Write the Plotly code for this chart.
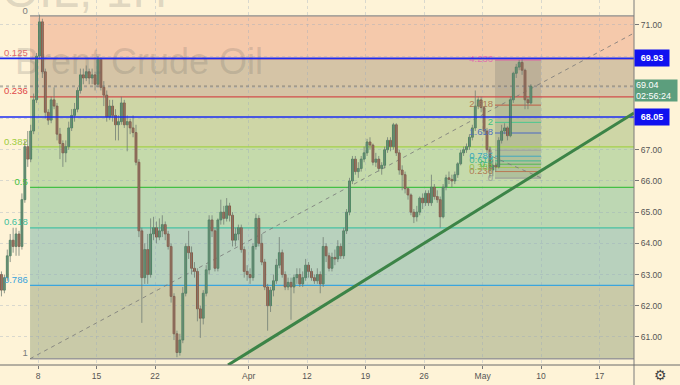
import plotly.graph_objects as go

# ---------------- data ----------------
opens = [63.0, 62.5, 62.9, 63.6, 64.1, 63.9, 64.3, 63.9, 65.4, 67.1,
         66.7, 67.6, 68.6, 70.0, 71.1, 69.5, 68.2, 67.95, 68.6, 68.4,
         67.5, 67.2, 66.9, 67.1, 67.7, 68.1, 68.3, 68.9, 69.4, 69.3,
         69.5, 69.3, 69.4, 69.1, 69.9, 69.0, 68.75, 68.05, 68.4, 68.1,
         67.8, 67.9, 68.5, 67.8, 67.9, 67.7, 67.55, 66.6, 64.4, 62.9,
         63.8, 63.0, 64.3, 64.5, 64.2, 64.4, 64.6, 64.3, 63.9, 62.3,
         61.1, 60.5, 60.9, 62.4, 63.9, 63.7, 63.2, 63.1, 61.9, 61.6,
         62.4, 63.15, 64.75, 64.4, 63.2, 64.75, 65.0, 64.8, 65.2, 64.9,
         64.1, 64.3, 64.5, 63.8, 63.1, 63.0, 62.9, 63.9, 64.8, 64.0,
         63.4, 62.6, 62.0, 62.5, 62.8, 63.3, 63.7, 63.0, 62.6, 62.75,
         62.6, 62.9, 63.0, 62.7, 62.9, 63.3, 63.1, 62.9, 62.8, 63.0,
         62.7, 63.9, 63.6, 63.2, 63.55, 63.5, 63.9, 63.6, 64.4, 65.0,
         66.0, 66.7, 66.3, 66.4, 66.7, 66.9, 67.25, 67.15, 66.6, 66.7,
         66.4, 66.5, 67.0, 67.3, 67.1, 67.8, 66.9, 66.35, 66.2, 65.75,
         65.55, 65.0, 64.85, 65.0, 65.45, 65.3, 65.6, 65.3, 65.8, 65.5,
         65.4, 64.85, 65.8, 66.1, 66.05, 66.0, 66.2, 66.55, 66.9, 67.0,
         67.1, 67.4, 67.7, 68.4, 68.6, 68.35, 67.6, 67.0, 66.35, 66.5,
         66.45, 67.3, 67.6, 67.7, 67.45, 68.6, 69.45, 69.65, 69.8, 69.55,
         68.6, 68.5]
highs = [63.1, 63.0, 63.8, 64.3, 64.5, 64.5, 64.4, 65.6, 67.3, 67.6,
         67.8, 68.8, 70.1, 71.33, 71.2, 69.6, 68.3, 68.7, 69.0, 68.5,
         67.7, 67.3, 67.3, 67.9, 68.3, 68.5, 69.0, 69.6, 69.6, 69.7,
         69.6, 69.6, 69.5, 70.0, 69.95, 69.2, 68.9, 68.6, 68.6, 68.3,
         68.1, 68.7, 68.6, 68.1, 68.0, 68.1, 67.8, 66.7, 64.5, 64.0,
         64.3, 64.8, 64.85, 64.7, 64.8, 64.9, 64.7, 64.4, 64.0, 62.4,
         61.2, 61.1, 62.6, 64.0, 64.4, 63.9, 63.4, 63.2, 62.0, 62.5,
         63.3, 64.9, 64.9, 64.5, 64.8, 65.4, 65.2, 65.45, 65.3, 65.0,
         64.5, 64.6, 64.6, 63.9, 63.3, 63.2, 64.0, 64.95, 64.9, 64.3,
         63.5, 62.7, 62.6, 63.0, 63.5, 64.2, 63.8, 63.1, 62.9, 62.9,
         63.0, 63.2, 63.2, 63.1, 63.5, 63.4, 63.2, 63.0, 63.2, 63.1,
         64.2, 64.0, 63.7, 63.7, 63.8, 64.1, 64.0, 64.5, 65.1, 66.1,
         66.8, 66.8, 66.6, 66.8, 67.1, 67.35, 67.4, 67.2, 66.9, 66.8,
         66.6, 67.1, 67.4, 67.4, 67.86, 67.85, 67.0, 66.5, 66.3, 65.8,
         65.6, 65.1, 65.2, 65.5, 65.6, 65.7, 65.7, 66.2, 65.9, 65.7,
         65.5, 65.9, 66.2, 66.3, 66.2, 66.3, 66.6, 67.0, 67.1, 67.2,
         67.5, 67.8, 68.9, 68.7, 68.7, 68.4, 67.7, 67.1, 66.7, 66.6,
         67.4, 67.8, 67.85, 67.75, 68.7, 69.5, 69.75, 69.88, 69.9, 69.6,
         68.7, 69.1]
lows = [62.3, 62.4, 62.8, 63.4, 63.7, 63.6, 63.6, 63.8, 65.3, 66.45,
        66.6, 67.5, 68.5, 69.9, 69.3, 68.0, 67.8, 67.85, 68.3, 67.3,
        66.7, 66.45, 66.6, 67.0, 67.6, 67.9, 68.2, 68.8, 69.1, 69.2,
        69.1, 69.1, 68.9, 69.0, 68.9, 68.4, 67.9, 67.95, 67.9, 67.3,
        67.3, 67.8, 67.7, 66.95, 67.5, 67.4, 66.5, 64.2, 61.45, 62.7,
        62.7, 62.9, 64.1, 64.0, 64.1, 64.2, 64.1, 63.8, 62.1, 60.9,
        60.35, 60.4, 60.8, 62.3, 63.5, 63.0, 62.9, 61.5, 60.97, 61.4,
        62.3, 63.0, 64.2, 63.1, 63.1, 64.6, 64.6, 64.7, 64.7, 63.9,
        63.9, 64.1, 63.7, 62.9, 62.8, 62.7, 62.8, 63.8, 63.9, 63.3,
        62.5, 61.2, 61.8, 62.3, 62.7, 63.2, 62.9, 62.5, 62.5, 61.55,
        62.4, 62.7, 62.6, 62.6, 62.8, 62.9, 62.8, 62.7, 62.7, 62.4,
        62.6, 63.4, 63.1, 63.1, 63.3, 63.4, 63.5, 63.5, 64.3, 64.9,
        65.9, 66.2, 66.1, 66.3, 66.6, 66.8, 67.0, 66.5, 66.45, 66.3,
        66.2, 66.4, 66.9, 66.95, 67.0, 66.8, 66.2, 65.7, 65.6, 65.4,
        64.9, 64.65, 64.7, 64.9, 65.1, 65.2, 65.2, 65.2, 65.4, 65.3,
        64.5, 64.8, 65.7, 65.9, 65.8, 65.9, 66.1, 66.5, 66.8, 66.9,
        67.0, 67.3, 67.6, 68.3, 68.2, 67.5, 66.9, 66.1, 66.15, 66.3,
        66.4, 67.2, 67.5, 67.3, 67.4, 68.5, 69.3, 69.55, 69.4, 68.3,
        68.3, 68.45]
closes = [62.5, 62.9, 63.6, 64.1, 63.9, 64.3, 63.9, 65.4, 67.1, 66.7,
          67.6, 68.6, 70.0, 71.1, 69.5, 68.2, 67.95, 68.6, 68.4, 67.5,
          67.2, 66.9, 67.1, 67.7, 68.1, 68.3, 68.9, 69.4, 69.3, 69.5,
          69.3, 69.4, 69.1, 69.9, 69.0, 68.75, 68.05, 68.4, 68.1, 67.8,
          67.9, 68.5, 67.8, 67.9, 67.7, 67.55, 66.6, 64.4, 62.9, 63.8,
          63.0, 64.3, 64.5, 64.2, 64.4, 64.6, 64.3, 63.9, 62.3, 61.1,
          60.5, 60.9, 62.4, 63.9, 63.7, 63.2, 63.1, 61.9, 61.6, 62.4,
          63.15, 64.75, 64.4, 63.2, 64.75, 65.0, 64.8, 65.2, 64.9, 64.1,
          64.3, 64.5, 63.8, 63.1, 63.0, 62.9, 63.9, 64.8, 64.0, 63.4,
          62.6, 62.0, 62.5, 62.8, 63.3, 63.7, 63.0, 62.6, 62.75, 62.6,
          62.9, 63.0, 62.7, 62.9, 63.3, 63.1, 62.9, 62.8, 63.0, 62.7,
          63.9, 63.6, 63.2, 63.55, 63.5, 63.9, 63.6, 64.4, 65.0, 66.0,
          66.7, 66.3, 66.4, 66.7, 66.9, 67.25, 67.15, 66.6, 66.7, 66.4,
          66.5, 67.0, 67.3, 67.1, 67.8, 66.9, 66.35, 66.2, 65.75, 65.55,
          65.0, 64.85, 65.0, 65.45, 65.3, 65.6, 65.3, 65.8, 65.5, 65.4,
          64.85, 65.8, 66.1, 66.05, 66.0, 66.2, 66.55, 66.9, 67.0, 67.1,
          67.4, 67.7, 68.4, 68.6, 68.35, 67.6, 67.0, 66.35, 66.5, 66.45,
          67.3, 67.6, 67.7, 67.45, 68.6, 69.45, 69.65, 69.8, 69.55, 68.6,
          68.5, 69.04]

# x position of candles in trading-day units (Mar 8 = 0), 4 bars per day
bar_start = -3.125
bar_step = 0.25

tick_pos = [0, 5, 10, 18, 23, 28, 33, 38, 43, 48]
tick_text = ["8", "15", "22", "Apr", "12", "19", "26", "May", "10", "17"]
price_ticks = [61, 62, 63, 64, 65, 66, 67, 68, 69, 70, 71]
hidden_ticks = [68, 69, 70]

# Fibonacci retracement
fib_high = 71.29
fib_low = 60.30
fib_ratios = [0, 0.125, 0.236, 0.382, 0.5, 0.618, 0.786, 1]
fib_labels = ["0", "0.125", "0.236", "0.382", "0.5", "0.618", "0.786", "1"]
fib_start = -0.68

# Trend-based Fibonacci extension
ext_base = 66.09
ext_unit = 0.894
ext_ratios = [0, 0.236, 0.382, 0.5, 0.618, 0.786, 1, 1.618, 2, 2.618, 4.236]
ext_labels = ["0", "0.236", "0.382", "0.5", "0.618", "0.786", "1", "1.618", "2", "2.618", "4.236"]
ext_x0, ext_x1 = 39.06, 42.99
ext_link = ((38.89, 66.77), (42.99, 66.10))

blue_levels = [69.93, 68.05]
last_price = 69.04
countdown = "02:56:24"

trend_line = ((16.24, 60.10), (50.94, 68.18))
fib_diag = ((-0.68, 60.30), (50.94, 70.74))

X_RANGE = [-3.248, 50.94]
Y_RANGE = [60.10, 71.80]

# ---------------- styles ----------------
BG = "#FEF3D7"
FONT = "Liberation Sans, Arial, sans-serif"
zone_colors = ["#F5C9AB", "#D5C4A6", "#CED6A6", "#C5DAAB", "#BDD7B3", "#B8D1BD", "#C9CAA8"]
fib_line_colors = ["#8c8c8c", "#e07070", "#d04848", "#a5d04a", "#45c045", "#45c0a0", "#3aa5dd", "#9a9a9a"]
fib_text_colors = ["#7c7c7c", "#e06a6a", "#e04848", "#9ccc3c", "#3cc03c", "#3cc09c", "#35a2dc", "#7c7c7c"]
ext_colors = ["#9a9a9a", "#b87a55", "#a0c850", "#50b850", "#40b890", "#40a8c0",
              "#a0a0a0", "#4a68c4", "#48c890", "#c05a44", "#e060a8"]
ext_text_colors = ["#9a9a9a", "#b07a55", "#90c050", "#50b850", "#40b890", "#3aa8c0",
                   "#a0a0a0", "#5070c0", "#40c080", "#b07a55", "#e070b0"]
UP_FILL, UP_EDGE = "#5d9f78", "#3f7a58"
DN_FILL, DN_EDGE = "#b5654e", "#7d4a3a"

n = len(closes)
xs = [bar_start + bar_step * i for i in range(n)]

fig = go.Figure()

# watermarks (under candles)
fig.add_trace(go.Scatter(x=[-1.97], y=[69.72], mode="text", text=["Brent Crude Oil"],
                         textposition="middle right", hoverinfo="skip", showlegend=False,
                         textfont=dict(size=36, color="rgba(95,95,95,0.2)", family=FONT)))
fig.add_trace(go.Scatter(x=[-3.1], y=[71.96], mode="text", text=["OIL, 1H"],
                         textposition="middle right", hoverinfo="skip", showlegend=False,
                         textfont=dict(size=48, color="rgba(95,95,95,0.2)", family=FONT)))

# fib labels
fib_prices = [fib_high - r * (fib_high - fib_low) for r in fib_ratios]
fig.add_trace(go.Scatter(x=[fib_start - 0.2] * len(fib_prices), y=fib_prices, mode="text",
                         text=fib_labels, textposition="top left", hoverinfo="skip", showlegend=False,
                         textfont=dict(size=9.5, color=fib_text_colors, family=FONT)))
ext_prices = [ext_base + r * ext_unit for r in ext_ratios]
fig.add_trace(go.Scatter(x=[ext_x0 - 0.17] * len(ext_prices), y=ext_prices, mode="text",
                         text=ext_labels, textposition="middle left", hoverinfo="skip", showlegend=False,
                         textfont=dict(size=9.5, color=ext_text_colors, family=FONT)))

# wicks
wx, wy = [], []
for x, h, l in zip(xs, highs, lows):
    wx += [x, x, None]
    wy += [l, h, None]
fig.add_trace(go.Scatter(x=wx, y=wy, mode="lines", line=dict(color="rgba(115,128,118,0.8)", width=1),
                         hoverinfo="skip", showlegend=False))

# bodies
for up in (True, False):
    idx = [i for i in range(n) if (closes[i] >= opens[i]) == up]
    fig.add_trace(go.Bar(
        x=[xs[i] for i in idx],
        base=[min(opens[i], closes[i]) for i in idx],
        y=[max(abs(closes[i] - opens[i]), 0.03) for i in idx],
        width=0.16,
        marker=dict(color=UP_FILL if up else DN_FILL,
                    line=dict(color=UP_EDGE if up else DN_EDGE, width=0.8)),
        hoverinfo="skip", showlegend=False))

shapes = []
# fib zones
for i in range(len(fib_prices) - 1):
    shapes.append(dict(type="rect", xref="x", yref="y", x0=fib_start, x1=52,
                       y0=fib_prices[i + 1], y1=fib_prices[i], fillcolor=zone_colors[i],
                       line=dict(width=0), layer="below"))
# extension box
shapes.append(dict(type="rect", xref="x", yref="y", x0=ext_x0, x1=ext_x1,
                   y0=ext_prices[0], y1=ext_prices[-1], fillcolor="rgba(105,105,105,0.22)",
                   line=dict(width=0), layer="below"))
# fib lines
for p, c in zip(fib_prices, fib_line_colors):
    shapes.append(dict(type="line", xref="x", yref="y", x0=fib_start, x1=52, y0=p, y1=p,
                       line=dict(color=c, width=1.3), layer="between"))
for p, c in zip(ext_prices, ext_colors):
    shapes.append(dict(type="line", xref="x", yref="y", x0=ext_x0, x1=ext_x1, y0=p, y1=p,
                       line=dict(color=c, width=1), layer="between"))
shapes.append(dict(type="line", xref="x", yref="y", x0=fib_diag[0][0], y0=fib_diag[0][1],
                   x1=fib_diag[1][0], y1=fib_diag[1][1],
                   line=dict(color="rgba(120,120,120,0.8)", width=1, dash="4px,4px"), layer="between"))
shapes.append(dict(type="line", xref="x", yref="y", x0=ext_link[0][0], y0=ext_link[0][1],
                   x1=ext_link[1][0], y1=ext_link[1][1],
                   line=dict(color="rgba(120,120,120,0.8)", width=1, dash="4px,4px"), layer="between"))
# user drawings above
for p in blue_levels:
    shapes.append(dict(type="line", xref="x", yref="y", x0=X_RANGE[0], x1=52, y0=p, y1=p,
                       line=dict(color="#1d2cf3", width=1.6), layer="above"))
shapes.append(dict(type="line", xref="x", yref="y", x0=X_RANGE[0], x1=52, y0=last_price, y1=last_price,
                   line=dict(color="rgba(110,110,110,0.8)", width=1, dash="dot"), layer="above"))
shapes.append(dict(type="line", xref="x", yref="y", x0=trend_line[0][0], y0=trend_line[0][1],
                   x1=trend_line[1][0], y1=trend_line[1][1],
                   line=dict(color="#3c8447", width=3), layer="above"))
# axis frame lines
shapes.append(dict(type="line", xref="paper", yref="paper", x0=1, x1=1, y0=-0.06, y1=1,
                   line=dict(color="#7a7a7a", width=1), layer="above"))
shapes.append(dict(type="line", xref="paper", yref="paper", x0=0, x1=1.08, y0=0, y1=0,
                   line=dict(color="#6a6a6a", width=1), layer="above"))

annotations = []
for p in blue_levels:
    annotations.append(dict(xref="paper", yref="y", x=1, y=p, xanchor="left", yanchor="middle",
                            text="<b>%.2f</b>" % p, showarrow=False, bgcolor="#1010f0",
                            font=dict(size=9, color="white", family=FONT),
                            width=30, height=12, borderpad=2, align="center"))
annotations.append(dict(xref="paper", yref="y", x=1, y=last_price, xanchor="left", yanchor="top",
                        yshift=7, text="%.2f<br>%s" % (last_price, countdown), showarrow=False,
                        bgcolor="#5c9e7d", font=dict(size=9, color="white", family=FONT),
                        width=40, height=19, borderpad=1, align="left"))
annotations.append(dict(xref="paper", yref="paper", x=660 / 634, y=-10 / 365, xanchor="center",
                        yanchor="middle", text="⚙", showarrow=False,
                        font=dict(size=14, color="#444", family="DejaVu Sans")))

ytext = ["" if v in hidden_ticks else "%.2f" % v for v in price_ticks]

fig.update_layout(
    width=680, height=385,
    margin=dict(l=0, r=46, t=0, b=20),
    paper_bgcolor=BG, plot_bgcolor=BG,
    template="none",
    barmode="overlay",
    showlegend=False,
    shapes=shapes,
    annotations=annotations,
    font=dict(family=FONT, size=9, color="#555"),
    xaxis=dict(range=X_RANGE, tickvals=tick_pos, ticktext=tick_text, showgrid=True,
               gridcolor="rgba(150,165,190,0.35)", griddash="3px,3px", gridwidth=1,
               ticks="outside", ticklen=3, tickcolor="#777", zeroline=False, showline=False,
               tickfont=dict(size=8.5, color="#555", family=FONT), automargin=False, fixedrange=True),
    yaxis=dict(range=Y_RANGE, side="right", tickvals=price_ticks, ticktext=ytext, showgrid=True,
               gridcolor="rgba(150,165,190,0.35)", griddash="3px,3px", gridwidth=1,
               ticks="outside", ticklen=4, tickcolor="#777", zeroline=False, showline=False,
               tickfont=dict(size=8.5, color="#555", family=FONT), automargin=False, fixedrange=True),
)

fig.write_html("out.html", config={"displayModeBar": False},
               post_script="document.body.style.margin='0px';document.body.style.padding='0px';"
                           "document.body.style.overflow='hidden';")
